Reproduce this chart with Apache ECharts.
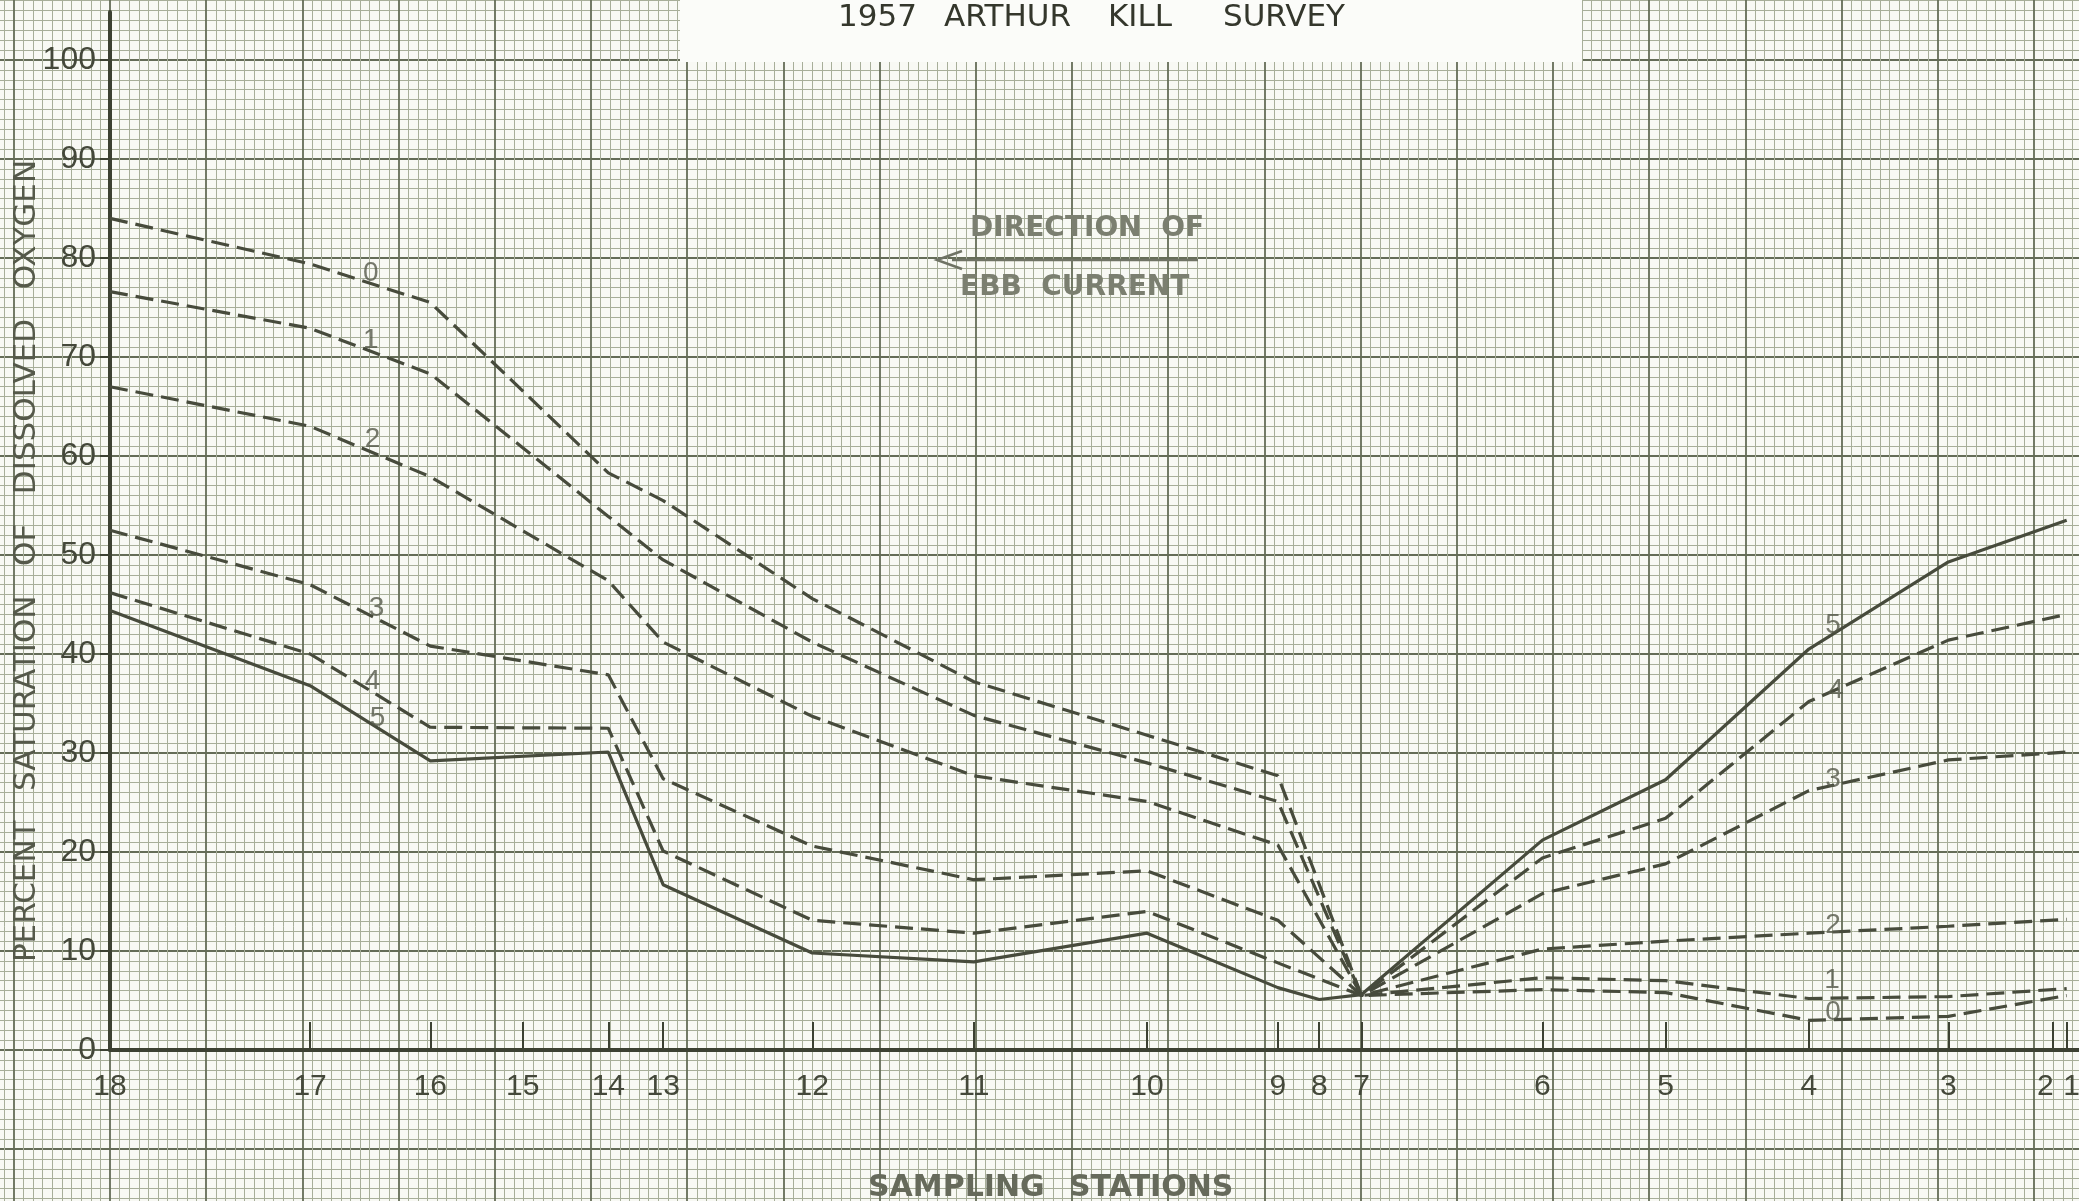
<!DOCTYPE html>
<html><head><meta charset="utf-8">
<script src="https://cdn.jsdelivr.net/npm/echarts@6/dist/echarts.min.js"></script>
<style>
html,body{margin:0;padding:0;background:#f8f9f4;overflow:hidden;width:2079px;height:1201px}
#c{position:absolute;left:-90px;top:-50px;width:2229px;height:1311px}
</style>
</head><body><div id="c"></div>
<script>
// Sampling stations (left to right) and their position along the survey (graph-paper units)
const stations   = ['18','17','16','15','14','13','12','11','10','9','8','7','6','5','4','3','2','1'];
const stationPos = [0, 20.8, 33.3, 42.9, 51.8, 57.5, 73.0, 89.8, 107.8, 121.4, 125.7, 130.1, 148.9, 161.7, 176.6, 191.1, 201.9, 203.4];

// Percent saturation of dissolved oxygen, one value per station (null = no reading drawn)
const curve0 = [84.0, 79.4, 75.5, null, 58.3, 55.5, 45.6, 37.2, 31.8, 27.7, null, 5.5, 6.1, 5.8, 3.0, 3.4, null, 5.5];
const curve1 = [76.6, 72.9, 68.3, null, 53.9, 49.5, 41.2, 33.8, 29.0, 25.1, null, 5.5, 7.3, 7.0, 5.2, 5.4, null, 6.2];
const curve2 = [67.0, 63.0, 57.9, null, 47.4, 41.2, 33.7, 27.7, 25.1, 20.7, null, 5.5, 10.2, 11.0, 11.8, 12.5, null, 13.2];
const curve3 = [52.5, 47.0, 40.8, null, 37.9, 27.4, 20.6, 17.2, 18.1, 13.1, null, 5.5, 15.8, 18.8, 26.2, 29.3, null, 30.1];
const curve4 = [46.2, 40.0, 32.6, null, 32.5, 20.1, 13.1, 11.8, 14.0, 8.8, null, 5.5, 19.4, 23.4, 35.2, 41.4, null, 44.0];
const curve5 = [44.4, 36.8, 29.2, null, 30.1, 16.7, 9.8, 8.9, 11.8, 6.3, 5.1, 5.6, 21.2, 27.3, 40.5, 49.3, null, 53.5];

const yTickValues = [0, 10, 20, 30, 40, 50, 60, 70, 80, 90, 100];

// Curve number labels: [position, value, text]
const curveLabels = [
  [27.1, 78.5, '0'], [27.1, 71.7, '1'], [27.3, 61.7, '2'], [27.7, 44.6, '3'], [27.3, 37.2, '4'], [27.8, 33.5, '5'],
  [179.1, 42.9, '5'], [179.4, 36.3, '4'], [179.1, 27.3, '3'], [179.1, 12.6, '2'], [179.0, 7.0, '1'], [179.1, 3.8, '0']
];

const curves = [curve0, curve1, curve2, curve3, curve4, curve5];
const curveDash = ['dashed', 'dashed', 'dashed', 'dashed', 'dashed', 'solid'];

const INK = '#44483a';
const FONT = '"DejaVu Sans", "Liberation Sans", sans-serif';
const LFONT = '"Liberation Sans", sans-serif';
// the chart canvas is shifted so the graph paper can run past the page edges
const OX = 90, OY = 50;

function pairs(vals) {
  const out = [];
  vals.forEach((v, i) => { if (v !== null) out.push([stationPos[i], v]); });
  return out;
}
function stationName(v) {
  let best = 0, bd = Infinity;
  stationPos.forEach((p, i) => { const d = Math.abs(p - v); if (d < bd) { bd = d; best = i; } });
  const n = stations[best];
  if (n === '2') return '{l|2}';
  if (n === '1') return '{r|1}';
  return n;
}

const chart = echarts.init(document.getElementById('c'), null, { renderer: 'canvas' });

const series = curves.map((c, k) => ({
  type: 'line', xAxisIndex: 1, yAxisIndex: 1,
  data: pairs(c), symbol: 'none', silent: true, z: 5,
  lineStyle: { color: '#474b3c', width: 3.2, type: curveDash[k] === 'solid' ? 'solid' : [18, 8] }
}));
series.push({
  type: 'scatter', xAxisIndex: 1, yAxisIndex: 1, symbolSize: 0, silent: true, z: 6,
  data: curveLabels.map(l => ({ value: [l[0], l[1]], name: l[2] })),
  label: { show: true, position: 'inside', formatter: p => p.name, fontFamily: LFONT,
           fontSize: 28, color: '#55594a' }
});

chart.setOption({
  animation: false,
  backgroundColor: '#f8f9f4',
  grid: [
    { left: 7.6, right: 8.8, top: 11, bottom: 13, containLabel: false },
    { left: 110 + OX, right: 60, top: 12 + OY, bottom: 211, containLabel: false }
  ],
  xAxis: [
    { gridIndex: 0, type: 'value', min: -20, max: 210, interval: 10,
      axisLine: { show: false }, axisTick: { show: false }, axisLabel: { show: false },
      splitLine: { show: true, lineStyle: { color: '#646c57', width: 1.8 } },
      minorTick: { show: false, splitNumber: 10 },
      minorSplitLine: { show: true, lineStyle: { color: '#a7ae99', width: 1 } } },
    { gridIndex: 1, type: 'value', min: 0, max: 204.68,
      splitLine: { show: false },
      axisLine: { show: true, onZero: false, lineStyle: { color: '#3c4132', width: 4 } },
      axisTick: { show: true, inside: true, length: 28, customValues: stationPos,
                  lineStyle: { color: '#3c4132', width: 2 } },
      axisLabel: { show: true, customValues: stationPos, formatter: stationName, margin: 22,
                   fontFamily: LFONT, fontSize: 30, color: INK,
                   rich: { l: { padding: [0, 14, 0, 0], fontSize: 30, color: INK, fontFamily: LFONT },
                           r: { padding: [0, 0, 0, 10], fontSize: 30, color: INK, fontFamily: LFONT } } } }
  ],
  yAxis: [
    { gridIndex: 0, type: 'value', min: -20, max: 110, interval: 10,
      axisLine: { show: false }, axisTick: { show: false }, axisLabel: { show: false },
      splitLine: { show: true, lineStyle: { color: '#646c57', width: 1.8 } },
      minorTick: { show: false, splitNumber: 10 },
      minorSplitLine: { show: true, lineStyle: { color: '#a7ae99', width: 1 } } },
    { gridIndex: 1, type: 'value', min: 0, max: 104.85,
      splitLine: { show: false },
      axisLine: { show: true, onZero: false, lineStyle: { color: '#3c4132', width: 4 } },
      axisTick: { show: true, length: 10, customValues: yTickValues, lineStyle: { color: '#3c4132', width: 2 } },
      axisLabel: { show: true, customValues: yTickValues, margin: 14,
                   fontFamily: LFONT, fontSize: 32, color: INK } }
  ],
  graphic: [{
    type: 'group', x: OX, y: OY, z: 100,
    children: [
      { type: 'rect', z: 100, shape: { x: 680, y: -OY, width: 902, height: 62 + OY }, style: { fill: '#fbfcf9' } },
      { type: 'text', z: 101, x: 838, y: 18, style: { text: '1957', font: '31px ' + FONT, fill: '#34372c', verticalAlign: 'middle' } },
      { type: 'text', z: 101, x: 944, y: 18, style: { text: 'ARTHUR', font: '31px ' + FONT, fill: '#34372c', verticalAlign: 'middle' } },
      { type: 'text', z: 101, x: 1108, y: 18, style: { text: 'KILL', font: '31px ' + FONT, fill: '#34372c', verticalAlign: 'middle' } },
      { type: 'text', z: 101, x: 1223, y: 18, style: { text: 'SURVEY', font: '31px ' + FONT, fill: '#34372c', verticalAlign: 'middle' } },

      { type: 'text', z: 101, x: 27, y: 561, rotation: Math.PI / 2,
        style: { text: 'PERCENT   SATURATION   OF   DISSOLVED   OXYGEN', font: '31px ' + FONT, fill: '#55594a',
                 align: 'center', verticalAlign: 'middle' } },

      { type: 'text', z: 101, x: 868, y: 1188, style: { text: 'SAMPLING', font: 'bold 30px ' + FONT, fill: '#666a5b', verticalAlign: 'middle' } },
      { type: 'text', z: 101, x: 1069, y: 1188, style: { text: 'STATIONS', font: 'bold 30px ' + FONT, fill: '#666a5b', verticalAlign: 'middle' } },

      { type: 'text', z: 101, x: 970, y: 229, style: { text: 'DIRECTION  OF', font: 'bold 28px ' + FONT, fill: '#7b7f70', verticalAlign: 'middle' } },
      { type: 'text', z: 101, x: 960, y: 288, style: { text: 'EBB  CURRENT', font: 'bold 28px ' + FONT, fill: '#7b7f70', verticalAlign: 'middle' } },
      { type: 'line', z: 101, shape: { x1: 952, y1: 260, x2: 1198, y2: 260 }, style: { stroke: '#6f7365', lineWidth: 2.5 } },
      { type: 'polyline', z: 101, shape: { points: [[962, 251], [937, 260], [962, 269]] }, style: { stroke: '#6f7365', lineWidth: 2.5, fill: null } }
    ]
  }],
  series: series
});
</script>
</body></html>
